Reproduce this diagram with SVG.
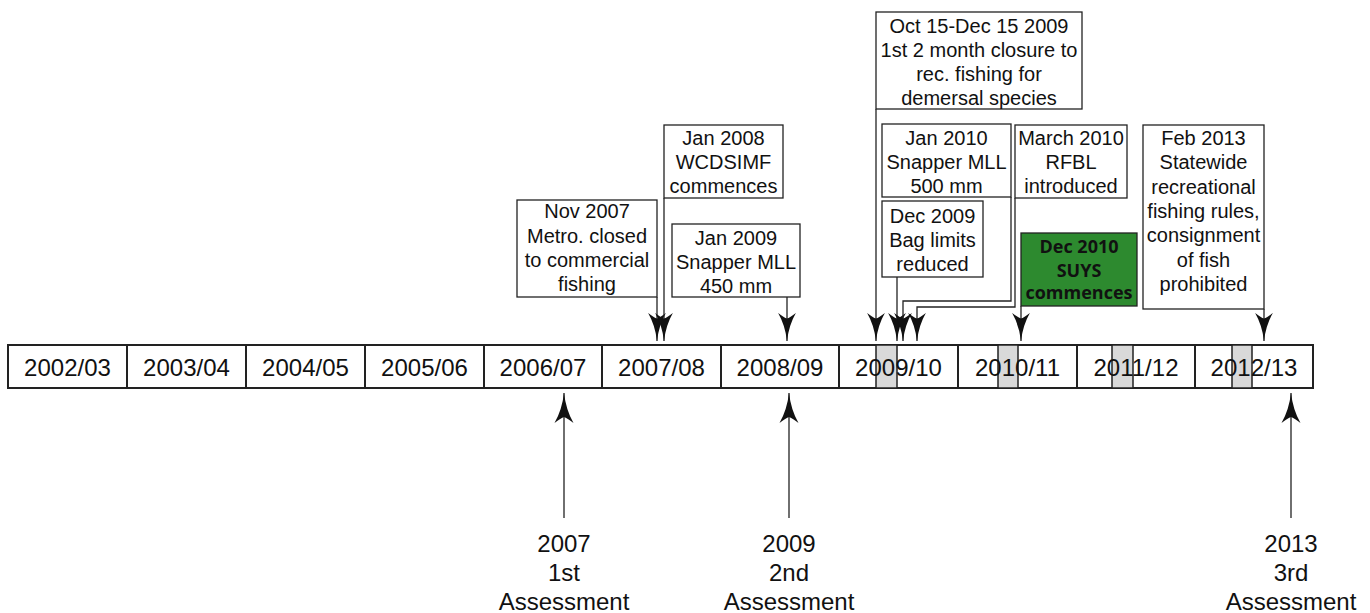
<svg xmlns="http://www.w3.org/2000/svg" width="1370" height="613" viewBox="0 0 1370 613">
<style>
.box{fill:#fff;stroke:#222;stroke-width:1.3}
.t{font-family:"Liberation Sans",Arial,sans-serif;font-size:20px;fill:#111;text-anchor:middle}
.c{font-family:"Liberation Sans",Arial,sans-serif;font-size:24px;fill:#111;text-anchor:middle}
.g{font-family:"Open Sans","Liberation Sans",sans-serif;font-size:18px;font-weight:bold;fill:#111;text-anchor:middle}
.cell{fill:#fff;stroke:#222;stroke-width:2}
.shade{fill:#d9d9d9;stroke:#222;stroke-width:1.5}
.con{fill:none;stroke:#222;stroke-width:1.3}
</style>
<defs>
<marker id="ah" viewBox="0 -10 30 20" refX="30" refY="0" markerWidth="30" markerHeight="20" markerUnits="userSpaceOnUse" orient="auto">
<path d="M30,0 Q13,2 0,9.5 Q5,3 6,0 Q5,-3 0,-9.5 Q13,-2 30,0 Z" fill="#111"/>
</marker>
<marker id="ahd" viewBox="0 -10 30 20" refX="30" refY="0" markerWidth="28" markerHeight="19" markerUnits="userSpaceOnUse" orient="auto">
<path d="M30,0 Q13,2 0,9.5 Q5,3 6,0 Q5,-3 0,-9.5 Q13,-2 30,0 Z" fill="#111"/>
</marker>
</defs>
<rect width="1370" height="613" fill="#fff"/>

<g id="timeline">
<rect class="cell" x="8" y="345" width="1305" height="43"/>
<path d="M127,345V388M246,345V388M365,345V388M484,345V388M602,345V388M721,345V388M839,345V388M958,345V388M1077,345V388M1195,345V388" stroke="#222" stroke-width="2"/>
<rect class="shade" x="876" y="345" width="21" height="43"/>
<rect class="shade" x="998" y="345" width="20" height="43"/>
<rect class="shade" x="1112" y="345" width="21" height="43"/>
<rect class="shade" x="1232" y="345" width="20" height="43"/>
<text class="c" x="67.5" y="376">2002/03</text>
<text class="c" x="186.5" y="376">2003/04</text>
<text class="c" x="305.5" y="376">2004/05</text>
<text class="c" x="424.5" y="376">2005/06</text>
<text class="c" x="543" y="376">2006/07</text>
<text class="c" x="661.5" y="376">2007/08</text>
<text class="c" x="780" y="376">2008/09</text>
<text class="c" x="898.5" y="376">2009/10</text>
<text class="c" x="1017.5" y="376">2010/11</text>
<text class="c" x="1136" y="376">2011/12</text>
<text class="c" x="1254" y="376">2012/13</text>
</g>

<g id="connectors">
<path class="con" d="M657,297V341" marker-end="url(#ahd)"/>
<path class="con" d="M664,198V341" marker-end="url(#ahd)"/>
<path class="con" d="M787,297V341" marker-end="url(#ahd)"/>
<path class="con" d="M876,109V341" marker-end="url(#ahd)"/>
<path class="con" d="M897,277V341" marker-end="url(#ahd)"/>
<path class="con" d="M1011,197V301H903V341" marker-end="url(#ahd)"/>
<path class="con" d="M1015,198V307H917V341" marker-end="url(#ahd)"/>
<path class="con" d="M1021,306V341" marker-end="url(#ahd)"/>
<path class="con" d="M1264,309V341" marker-end="url(#ahd)"/>
<path class="con" d="M564,518V393" marker-end="url(#ah)"/>
<path class="con" d="M789,518V393" marker-end="url(#ah)"/>
<path class="con" d="M1291,518V393" marker-end="url(#ah)"/>
</g>

<g id="nov2007">
<rect class="box" x="517" y="200" width="140" height="97"/>
<text class="t" x="587" y="218">Nov 2007</text>
<text class="t" x="587" y="242.5">Metro. closed</text>
<text class="t" x="587" y="267">to commercial</text>
<text class="t" x="587" y="291">fishing</text>
</g>

<g id="jan2008">
<rect class="box" x="664" y="125" width="119" height="73"/>
<text class="t" x="723.5" y="145">Jan 2008</text>
<text class="t" x="723.5" y="169">WCDSIMF</text>
<text class="t" x="723.5" y="193">commences</text>
</g>

<g id="jan2009">
<rect class="box" x="672" y="224" width="128" height="73"/>
<text class="t" x="736" y="244.5">Jan 2009</text>
<text class="t" x="736" y="268.5">Snapper MLL</text>
<text class="t" x="736" y="292.5">450 mm</text>
</g>

<g id="oct2009">
<rect class="box" x="876" y="12" width="206" height="97"/>
<text class="t" x="979" y="32.5">Oct 15-Dec 15 2009</text>
<text class="t" x="979" y="56.5">1st 2 month closure to</text>
<text class="t" x="979" y="80.5">rec. fishing for</text>
<text class="t" x="979" y="104.5">demersal species</text>
</g>

<g id="jan2010">
<rect class="box" x="882" y="124" width="129" height="73"/>
<text class="t" x="946.5" y="144.5">Jan 2010</text>
<text class="t" x="946.5" y="168.5">Snapper MLL</text>
<text class="t" x="946.5" y="192.5">500 mm</text>
</g>

<g id="mar2010">
<rect class="box" x="1015" y="125" width="112" height="73"/>
<text class="t" x="1071" y="144.5">March 2010</text>
<text class="t" x="1071" y="168.5">RFBL</text>
<text class="t" x="1071" y="192.5">introduced</text>
</g>

<g id="dec2009">
<rect class="box" x="882" y="201" width="101" height="76"/>
<text class="t" x="932.5" y="222.5">Dec 2009</text>
<text class="t" x="932.5" y="246.5">Bag limits</text>
<text class="t" x="932.5" y="270.5">reduced</text>
</g>

<g id="dec2010">
<rect x="1021" y="233" width="116" height="73" fill="#2d8a2f" stroke="#222" stroke-width="1.3"/>
<text class="g" x="1079" y="253">Dec 2010</text>
<text class="g" x="1079" y="276.5">SUYS</text>
<text class="g" x="1079" y="299">commences</text>
</g>

<g id="feb2013">
<rect class="box" x="1143" y="125" width="121" height="184"/>
<text class="t" x="1203.5" y="145">Feb 2013</text>
<text class="t" x="1203.5" y="169.3">Statewide</text>
<text class="t" x="1203.5" y="193.6">recreational</text>
<text class="t" x="1203.5" y="217.9">fishing rules,</text>
<text class="t" x="1203.5" y="242.2">consignment</text>
<text class="t" x="1203.5" y="266.5">of fish</text>
<text class="t" x="1203.5" y="290.8">prohibited</text>
</g>

<g id="assess1">
<text class="c" x="564" y="551.5">2007</text>
<text class="c" x="564" y="580.5">1st</text>
<text class="c" x="564" y="609.5">Assessment</text>
</g>
<g id="assess2">
<text class="c" x="789" y="551.5">2009</text>
<text class="c" x="789" y="580.5">2nd</text>
<text class="c" x="789" y="609.5">Assessment</text>
</g>
<g id="assess3">
<text class="c" x="1291" y="551.5">2013</text>
<text class="c" x="1291" y="580.5">3rd</text>
<text class="c" x="1291" y="609.5">Assessment</text>
</g>
</svg>
